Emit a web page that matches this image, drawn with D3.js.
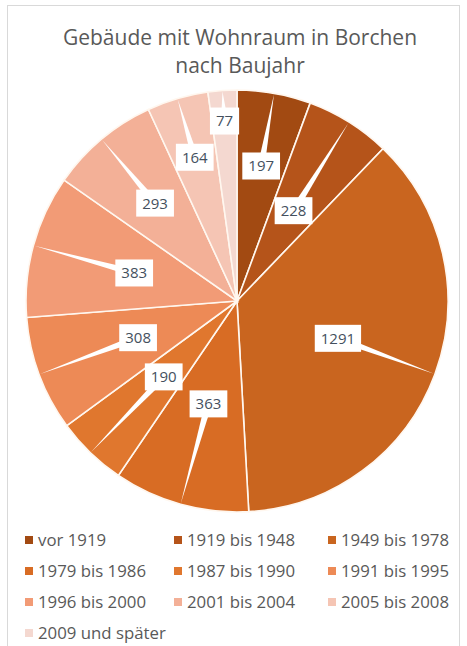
<!DOCTYPE html>
<html>
<head>
<meta charset="utf-8">
<script src="https://cdn.jsdelivr.net/npm/d3@7"></script>
<style>
  html, body { margin: 0; padding: 0; background: #fff; }
  svg { display: block; font-family: "Open Sans", sans-serif; }
</style>
</head>
<body>
<svg id="chart" width="467" height="646"></svg>
<script>
// Buildings with living space in Borchen, by construction period
const categories = ["vor 1919", "1919 bis 1948", "1949 bis 1978", "1979 bis 1986", "1987 bis 1990",
                    "1991 bis 1995", "1996 bis 2000", "2001 bis 2004", "2005 bis 2008", "2009 und später"];
const values = [197, 228, 1291, 363, 190, 308, 383, 293, 164, 77];
const colors = ["#a24a12", "#b5541a", "#c9651f", "#d86c24", "#e0772e",
                "#ed8a56", "#f29b76", "#f3b097", "#f5c5b4", "#f4d8d0"];
const titleLines = ["Gebäude mit Wohnraum in Borchen", "nach Baujahr"];

// Callout distance from the centre, as a fraction of the radius
const labelRadius = [0.65, 0.505, 0.51, 0.506, 0.50, 0.50, 0.505, 0.605, 0.71, 0.855];

const svg = d3.select("#chart");
const W = 467, H = 646;

// chart frame
svg.append("rect")
  .attr("x", 7.5).attr("y", 5.5).attr("width", 452).attr("height", H)
  .attr("fill", "#fff").attr("stroke", "#d9d9d9").attr("stroke-width", 1);

// title
svg.append("g").selectAll("text").data(titleLines).join("text")
  .attr("x", 240).attr("y", (d, i) => 45 + i * 28)
  .attr("text-anchor", "middle")
  .attr("font-size", 21).attr("fill", "#595959")
  .text(d => d);

const cx = 237, cy = 301, R = 211;
const g = svg.append("g").attr("transform", `translate(${cx},${cy})`);

const pie = d3.pie().sort(null).value(d => d);
const arcs = pie(values);
const arc = d3.arc().innerRadius(0).outerRadius(R);

g.selectAll("path.slice").data(arcs).join("path")
  .attr("class", "slice")
  .attr("d", arc)
  .attr("fill", (d, i) => colors[i])
  .attr("stroke", "#fff7ef").attr("stroke-width", 1.6);

const mid = d => (d.startAngle + d.endAngle) / 2;
const polar = (a, r) => [Math.sin(a) * r, -Math.cos(a) * r];

// callout pointers: tapered wedges from the label to the slice edge
g.selectAll("path.leader").data(arcs).join("path")
  .attr("class", "leader")
  .attr("fill", "#ffffff")
  .attr("d", (d, i) => {
    const a = mid(d);
    const [lx, ly] = polar(a, labelRadius[i] * R);
    const [tx, ty] = polar(a, R - 1);
    const len = Math.hypot(tx - lx, ty - ly) || 1;
    const nx = -(ty - ly) / len * 3.5, ny = (tx - lx) / len * 3.5;
    return `M${lx + nx},${ly + ny}L${tx},${ty}L${lx - nx},${ly - ny}Z`;
  });

// value labels in white boxes
const lab = g.selectAll("g.lab").data(arcs).join("g")
  .attr("class", "lab")
  .attr("transform", (d, i) => {
    const [x, y] = polar(mid(d), labelRadius[i] * R);
    return `translate(${x},${y})`;
  });
lab.append("rect").attr("fill", "#fff");
lab.append("text")
  .attr("text-anchor", "middle").attr("dy", "0.36em")
  .attr("font-size", 15).attr("fill", "#44505e")
  .text(d => d.data);
lab.each(function () {
  const t = d3.select(this).select("text").node();
  const w = t.getComputedTextLength() + 12, h = 27;
  d3.select(this).select("rect")
    .attr("x", -w / 2).attr("y", -h / 2).attr("width", w).attr("height", h);
});

// legend
const legend = svg.append("g");
const colX = [25, 174, 328];
const items = legend.selectAll("g").data(categories).join("g")
  .attr("transform", (d, i) => `translate(${colX[i % 3]},${546 + Math.floor(i / 3) * 31})`);
items.append("rect")
  .attr("x", 0).attr("y", -10).attr("width", 8).attr("height", 8)
  .attr("fill", (d, i) => colors[i]);
items.append("text")
  .attr("x", 13).attr("y", 0)
  .attr("font-size", 16.8).attr("fill", "#595959")
  .text(d => d);
</script>
</body>
</html>
